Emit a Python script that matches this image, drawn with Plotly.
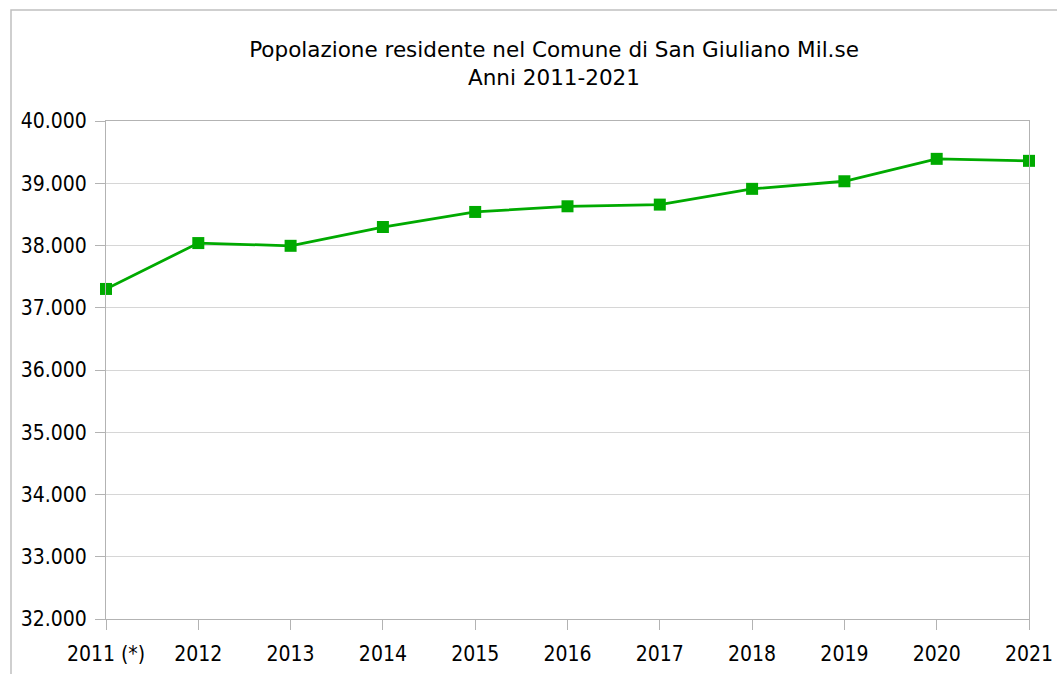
import plotly.graph_objects as go

years = ["2011 (*)", "2012", "2013", "2014", "2015", "2016", "2017", "2018", "2019", "2020", "2021"]
population = [37302, 38039, 37995, 38297, 38539, 38630, 38657, 38910, 39032, 39392, 39360]
y_ticks = [32000, 33000, 34000, 35000, 36000, 37000, 38000, 39000, 40000]
y_tick_labels = ["32.000", "33.000", "34.000", "35.000", "36.000", "37.000", "38.000", "39.000", "40.000"]

W, H = 1057, 674
L, R, T, B = 106, 28, 121, 55
pw, ph = W - L - R, H - T - B

TFONT = "DejaVu Sans"
FONT = "DejaVu Sans Condensed, DejaVu Sans"
GREEN = "#00aa00"
GRID = "#d6d6d6"
AX = "#b3b3b3"

fig = go.Figure()
fig.add_trace(go.Scatter(
    x=list(range(len(years))), y=population, mode="lines+markers",
    line=dict(color=GREEN, width=2.8),
    marker=dict(symbol="square", size=12, color=GREEN),
    cliponaxis=False,
    hoverinfo="x+y", showlegend=False,
))

fig.update_layout(
    width=W, height=H,
    margin=dict(l=L, r=R, t=T, b=B, autoexpand=False),
    paper_bgcolor="white", plot_bgcolor="white",
    font=dict(family=FONT, size=21, color="black"),
    title=dict(
        text="Popolazione residente nel Comune di San Giuliano Mil.se<br>Anni 2011-2021",
        x=554 / W, xanchor="center", y=1 - 57 / H, yanchor="middle",
        font=dict(family=TFONT, size=21.5, color="black"),
        automargin=False,
    ),
    xaxis=dict(
        range=[0, len(years) - 1],
        tickmode="array", tickvals=list(range(len(years))), ticktext=years,
        showgrid=False, zeroline=False,
        showline=True, linecolor=AX, linewidth=1, mirror=True,
        ticks="outside", ticklen=10, tickcolor=AX,
        ticklabelstandoff=6, ticklabeloverflow="allow", automargin=False,
        tickfont=dict(family=FONT, size=21, color="black"),
    ),
    yaxis=dict(
        range=[32000, 40000],
        tickmode="array", tickvals=y_ticks, ticktext=y_tick_labels,
        showgrid=True, gridcolor=GRID, gridwidth=1, zeroline=False,
        showline=True, linecolor=AX, linewidth=1, mirror=True,
        ticks="outside", ticklen=10, tickcolor=AX,
        ticklabelstandoff=4, ticklabeloverflow="allow", automargin=False,
        tickfont=dict(family=FONT, size=21, color="black"),
    ),
)

# outer chart frame
fig.add_shape(
    type="rect", xref="paper", yref="paper",
    x0=(11 - L) / pw, x1=(W + 40 - L) / pw,
    y0=-(B + 40) / ph, y1=(H - B - 10) / ph,
    line=dict(color="#c0c0c0", width=1.5), fillcolor="rgba(0,0,0,0)",
    layer="below",
)

fig.write_html(
    "out.html",
    config={"displayModeBar": False},
    post_script="document.body.style.margin='0';document.body.style.overflow='hidden';",
)
